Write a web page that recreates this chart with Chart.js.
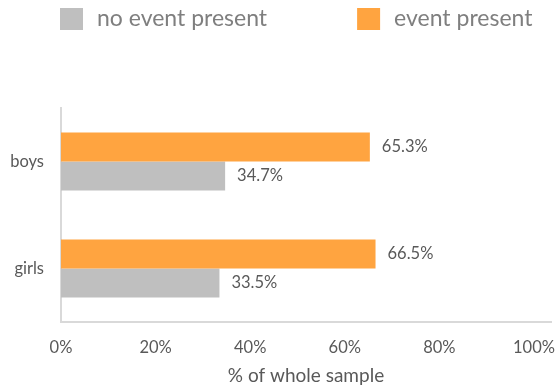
<!DOCTYPE html>
<html>
<head>
<meta charset="utf-8">
<script src="https://cdn.jsdelivr.net/npm/chart.js@4.4.1/dist/chart.umd.min.js"></script>
<style>
  html, body { margin: 0; padding: 0; background: #fff; }
</style>
</head>
<body>
<canvas id="eventChart" width="556" height="385"></canvas>
<script>
// share of each group with / without an event (%)
const groups = ["boys", "girls"];
const seriesNames = ["no event present", "event present"];
const noEventPct = [34.7, 33.5];
const eventPct = [65.3, 66.5];
const xTicks = [0, 20, 40, 60, 80, 100];

const grey = "#bfbfbf";
const orange = "#ffa440";
const textColor = "#595959";

// legend row across the top, grey item first
const topLegend = {
  id: "topLegend",
  afterDraw(chart) {
    const ctx = chart.ctx;
    const items = chart.data.datasets.slice().reverse();
    ctx.save();
    ctx.font = "23px Lato";
    ctx.textBaseline = "middle";
    let x = 60;
    const y = 19;
    items.forEach((ds) => {
      ctx.fillStyle = ds.backgroundColor;
      ctx.fillRect(x, y - 11, 23, 22);
      ctx.fillStyle = "#7f7f7f";
      ctx.fillText(ds.label, x + 37, y);
      x += 37 + ctx.measureText(ds.label).width + 90;
    });
    ctx.restore();
  },
};

// percentage printed just past the end of each bar
const valueLabels = {
  id: "valueLabels",
  afterDatasetsDraw(chart) {
    const ctx = chart.ctx;
    ctx.save();
    ctx.font = "16.5px Lato";
    ctx.fillStyle = textColor;
    ctx.textBaseline = "middle";
    chart.data.datasets.forEach((ds, i) => {
      chart.getDatasetMeta(i).data.forEach((bar, j) => {
        ctx.fillText(ds.data[j].toFixed(1) + "%", bar.x + 12, bar.y);
      });
    });
    ctx.restore();
  },
};

new Chart(document.getElementById("eventChart"), {
  type: "bar",
  data: {
    labels: groups,
    datasets: [
      { label: seriesNames[1], data: eventPct, backgroundColor: orange },
      { label: seriesNames[0], data: noEventPct, backgroundColor: grey },
    ],
  },
  options: {
    indexAxis: "y",
    responsive: false,
    animation: false,
    layout: { padding: { top: 108, left: 0, right: 5, bottom: 0 } },
    datasets: { bar: { categoryPercentage: 0.54, barPercentage: 1 } },
    plugins: {
      legend: { display: false },
      tooltip: { enabled: false },
    },
    scales: {
      x: {
        min: 0,
        max: 103.6,
        afterBuildTicks: (axis) => {
          axis.ticks = xTicks.map((v) => ({ value: v }));
        },
        afterFit: (axis) => {
          axis.height = 63;
          axis.paddingLeft = 0;
          axis.paddingRight = 0;
        },
        ticks: {
          callback: (v) => v + "%",
          color: textColor,
          font: { family: "Lato", size: 16.5 },
          padding: 16,
          maxRotation: 0,
        },
        grid: { display: false, drawTicks: false },
        border: { display: true, color: "#d9d9d9", width: 2 },
        title: {
          display: true,
          text: "% of whole sample",
          color: textColor,
          font: { family: "Lato", size: 19, lineHeight: 1 },
          padding: 0,
        },
      },
      y: {
        afterFit: (axis) => {
          axis.width = 61;
        },
        ticks: {
          color: textColor,
          font: { family: "Lato", size: 16.5 },
          padding: 17,
        },
        grid: { display: false, drawTicks: false },
        border: { display: true, color: "#d9d9d9", width: 2 },
      },
    },
  },
  plugins: [valueLabels, topLegend],
});
</script>
</body>
</html>
